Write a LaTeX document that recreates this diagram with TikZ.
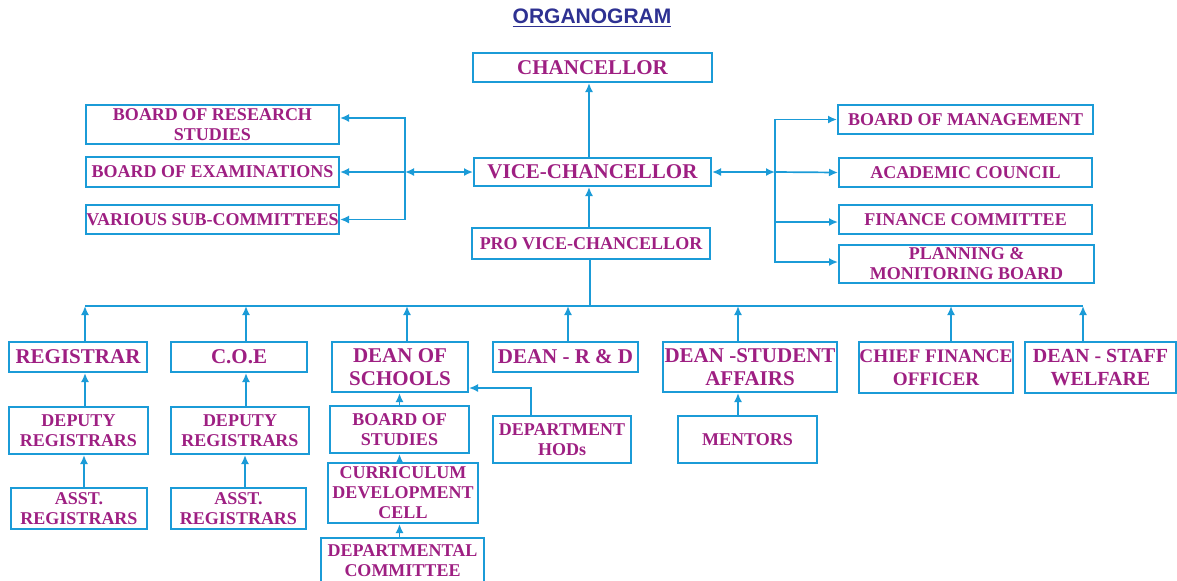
\documentclass[tikz,border=0pt]{standalone}
\usepackage{fontspec}
\setmainfont{Liberation Serif}
\newfontfamily\titlefont{Liberation Sans}
\usepackage{xcolor}
\usepackage{tikz}
\usetikzlibrary{arrows.meta}

\definecolor{boxblue}{HTML}{1B9BD7}
\definecolor{orgpurple}{HTML}{9E1F82}
\definecolor{titleblue}{HTML}{2E3192}

\tikzset{
  orgbox/.style={draw=boxblue, line width=1pt, text=orgpurple, align=center, inner sep=0pt,
    font=\bfseries\fontsize{9}{10}\selectfont},
  bigtext/.style={font=\bfseries\fontsize{10.5}{11.5}\selectfont},
  wh/.style 2 args={minimum width=#1*0.5pt, minimum height=#2*0.5pt},
  conn/.style={draw=boxblue, line width=0.85pt}
}

\begin{document}
\begin{tikzpicture}[x=0.5pt, y=-0.5pt, >={Latex[length=4.5pt,width=4pt]}]
	\useasboundingbox (0,0) rectangle (1177,580);
	\clip (0,0) rectangle (1177,580);
	
	\node (title) at (592,18) {\titlefont\bfseries\fontsize{10.5}{12}\selectfont\color{titleblue}\underline{ORGANOGRAM}};
	
	% centre column
	\node[orgbox, bigtext, wh={239}{29}] (chan) at (592.5,67.5) {CHANCELLOR};
	\node[orgbox, bigtext, wh={237}{28}] (vc) at (592.5,172) {VICE-CHANCELLOR};
	\node[orgbox, wh={238}{31}] (pvc) at (591,243.5) {PRO VICE-CHANCELLOR};
	
	% boards on the left
	\node[orgbox, wh={253}{39}] (bors) at (212.5,124.5) {BOARD OF RESEARCH\\STUDIES};
	\node[orgbox, wh={253}{30}] (boe) at (212.5,172) {BOARD OF EXAMINATIONS};
	\node[orgbox, wh={253}{29}] (vsc) at (212.5,219.5) {VARIOUS SUB-COMMITTEES};
	
	% boards on the right
	\node[orgbox, wh={255}{29}] (bom) at (965.5,119.5) {BOARD OF MANAGEMENT};
	\node[orgbox, wh={253}{29}] (ac) at (965.5,172.5) {ACADEMIC COUNCIL};
	\node[orgbox, wh={253}{29}] (fc) at (965.5,219.5) {FINANCE COMMITTEE};
	\node[orgbox, wh={255}{38}] (pmb) at (966.5,264) {PLANNING \&\\MONITORING BOARD};
	
	% officers
	\node[orgbox, bigtext, wh={138}{30}] (reg) at (78,357) {REGISTRAR};
	\node[orgbox, bigtext, wh={136}{30}] (coe) at (239,357) {C.O.E};
	\node[orgbox, bigtext, wh={136}{50}] (dos) at (400,367) {DEAN OF\\SCHOOLS};
	\node[orgbox, bigtext, wh={145}{30}] (rnd) at (565.5,357) {DEAN - R \& D};
	\node[orgbox, bigtext, wh={174}{50}] (dsa) at (750,367) {DEAN -STUDENT\\AFFAIRS};
	\node[orgbox, wh={154}{51}, font=\bfseries\fontsize{9.6}{11.5}\selectfont] (cfo) at (936,367.5) {CHIEF FINANCE\\OFFICER};
	\node[orgbox, wh={151}{51}, font=\bfseries\fontsize{10}{11.5}\selectfont] (dsw) at (1100.5,367.5) {DEAN - STAFF\\WELFARE};
	
	% lower levels
	\node[orgbox, wh={139}{47}] (dr1) at (78.5,430.5) {DEPUTY\\REGISTRARS};
	\node[orgbox, wh={138}{47}] (dr2) at (240,430.5) {DEPUTY\\REGISTRARS};
	\node[orgbox, wh={136}{41}] (ar1) at (79,508.5) {ASST.\\REGISTRARS};
	\node[orgbox, wh={135}{41}] (ar2) at (238.5,508.5) {ASST.\\REGISTRARS};
	\node[orgbox, wh={139}{47}] (bos) at (399.5,429.5) {BOARD OF\\STUDIES};
	\node[orgbox, wh={150}{60}] (cdc) at (403,493) {CURRICULUM\\DEVELOPMENT\\CELL};
	\node[orgbox, wh={163}{46}] (dc) at (402.5,561) {DEPARTMENTAL\\COMMITTEE};
	\node[orgbox, wh={138}{47}] (hods) at (562,439.5) {DEPARTMENT\\HODs};
	\node[orgbox, wh={139}{47}] (men) at (747.5,439.5) {MENTORS};
	
	% links round the vice-chancellor
	\coordinate (lbus) at (405,172);
	\coordinate (rbus) at (775,172);
	\draw[conn, <->] (lbus) -- (vc.west);
	\draw[conn, ->] (lbus) |- ([yshift=3.25pt]bors.east);
	\draw[conn, ->] (lbus) -- (boe.east);
	\draw[conn, ->] (lbus) |- (vsc.east);
	\draw[conn, <->] (vc.east) -- (rbus);
	\draw[conn, ->] (rbus) |- (bom.west);
	\draw[conn, ->] (rbus) -- (ac.west);
	\draw[conn, ->] (rbus) |- ([yshift=-1.25pt]fc.west);
	\draw[conn, ->] (rbus) |- ([yshift=1pt]pmb.west);
	\draw[conn, ->] ([xshift=-1.75pt]vc.north) -- ([xshift=-1.75pt]vc.north |- chan.south);
	\draw[conn, ->] ([xshift=-1.75pt]vc.south |- pvc.north) -- ([xshift=-1.75pt]vc.south);
	
	% bus under the pro vice-chancellor
	\coordinate (bbus) at (590,306);
	\draw[conn] (pvc.south -| bbus) -- (bbus);
	\draw[conn] ([xshift=3.5pt]reg.north |- bbus) -- ([xshift=-8.75pt]dsw.north |- bbus);
	\foreach \n/\s in {reg/3.5, coe/3.5, dos/3.5, rnd/1.25, dsa/-6, cfo/7.5, dsw/-8.75}
		\draw[conn, ->] ([xshift=\s pt]\n.north) -- ([xshift=\s pt]\n.north |- bbus);
	
	% chains below
	\draw[conn, ->] ([xshift=3.25pt]dr1.north) -- ([xshift=3.25pt]dr1.north |- reg.south);
	\draw[conn, ->] ([xshift=2.5pt]ar1.north) -- ([xshift=2.5pt]ar1.north |- dr1.south);
	\draw[conn, ->] ([xshift=3pt]dr2.north) -- ([xshift=3pt]dr2.north |- coe.south);
	\draw[conn, ->] ([xshift=3.25pt]ar2.north) -- ([xshift=3.25pt]ar2.north |- dr2.south);
	\draw[conn, ->] (bos.north) -- (bos.north |- dos.south);
	\draw[conn, ->] (cdc.north -| bos.south) -- (bos.south);
	\draw[conn, ->] (dc.north -| bos.south) -- (cdc.south -| bos.south);
	\draw[conn, ->] ([xshift=-15.5pt]hods.north) |- ([yshift=-10.5pt]dos.east);
	\draw[conn, ->] ([xshift=-4.75pt]men.north) -- ([xshift=-4.75pt]men.north |- dsa.south);
\end{tikzpicture}
\end{document}
